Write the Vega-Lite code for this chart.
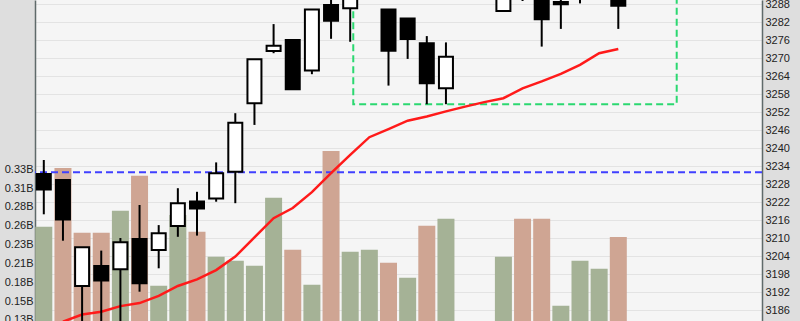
{
  "$schema": "https://vega.github.io/schema/vega-lite/v6.json",
  "width": 727,
  "height": 321,
  "autosize": {"type": "none"},
  "padding": {"left": 35, "right": 38, "top": 0, "bottom": 0},
  "background": "#dedede",
  "view": {"fill": "#f5f5f5", "stroke": null},
  "config": {
    "axis": {
      "labelFont": "Liberation Sans",
      "labelFontSize": 11,
      "labelColor": "#222222",
      "ticks": false,
      "title": null,
      "gridColor": "#e3e3e3",
      "gridWidth": 1,
      "domainColor": "#5f6a6a",
      "domainWidth": 1.5
    }
  },
  "datasets": {
    "candles": [
      {"slot": 1, "open": 3231.4, "high": 3236.1, "low": 3218.0, "close": 3226.3, "volume": 255800000, "vdir": "up"},
      {"slot": 2, "open": 3229.4, "high": 3229.4, "low": 3209.2, "close": 3216.3, "volume": 335600000, "vdir": "down"},
      {"slot": 3, "open": 3194.1, "high": 3207.0, "low": 3178.0, "close": 3207.0, "volume": 247600000, "vdir": "down"},
      {"slot": 4, "open": 3200.8, "high": 3205.9, "low": 3180.0, "close": 3195.9, "volume": 247600000, "vdir": "down"},
      {"slot": 5, "open": 3199.7, "high": 3210.1, "low": 3176.0, "close": 3208.7, "volume": 277500000, "vdir": "up"},
      {"slot": 6, "open": 3209.8, "high": 3221.1, "low": 3192.2, "close": 3195.0, "volume": 325100000, "vdir": "down"},
      {"slot": 7, "open": 3206.1, "high": 3214.4, "low": 3200.0, "close": 3211.7, "volume": 175600000, "vdir": "up"},
      {"slot": 8, "open": 3214.1, "high": 3226.7, "low": 3210.5, "close": 3221.7, "volume": 271700000, "vdir": "up"},
      {"slot": 9, "open": 3222.3, "high": 3225.5, "low": 3210.9, "close": 3219.9, "volume": 249000000, "vdir": "down"},
      {"slot": 10, "open": 3223.3, "high": 3235.3, "low": 3222.2, "close": 3231.7, "volume": 215000000, "vdir": "up"},
      {"slot": 11, "open": 3232.2, "high": 3251.7, "low": 3221.7, "close": 3248.5, "volume": 209600000, "vdir": "up"},
      {"slot": 12, "open": 3255.0, "high": 3269.7, "low": 3247.8, "close": 3269.7, "volume": 202800000, "vdir": "up"},
      {"slot": 13, "open": 3272.4, "high": 3281.4, "low": 3271.7, "close": 3274.2, "volume": 295200000, "vdir": "up"},
      {"slot": 14, "open": 3276.1, "high": 3276.4, "low": 3259.7, "close": 3259.7, "volume": 224500000, "vdir": "down"},
      {"slot": 15, "open": 3265.9, "high": 3286.3, "low": 3264.7, "close": 3286.3, "volume": 177000000, "vdir": "up"},
      {"slot": 16, "open": 3287.8, "high": 3292.5, "low": 3276.5, "close": 3282.5, "volume": 358700000, "vdir": "down"},
      {"slot": 17, "open": 3286.7, "high": 3296.0, "low": 3275.5, "close": 3293.0, "volume": 221800000, "vdir": "up"},
      {"slot": 18, "open": 3295.0, "high": 3301.0, "low": 3291.5, "close": 3299.0, "volume": 224500000, "vdir": "up"},
      {"slot": 19, "open": 3286.3, "high": 3286.3, "low": 3260.9, "close": 3272.5, "volume": 206900000, "vdir": "down"},
      {"slot": 20, "open": 3283.3, "high": 3283.3, "low": 3269.8, "close": 3276.4, "volume": 186500000, "vdir": "up"},
      {"slot": 21, "open": 3275.0, "high": 3277.4, "low": 3254.7, "close": 3261.7, "volume": 257200000, "vdir": "down"},
      {"slot": 22, "open": 3260.0, "high": 3275.3, "low": 3254.7, "close": 3270.5, "volume": 266700000, "vdir": "up"},
      {"slot": 25, "open": 3285.8, "high": 3294.0, "low": 3285.8, "close": 3292.0, "volume": 215000000, "vdir": "up"},
      {"slot": 26, "open": 3296.0, "high": 3298.0, "low": 3289.1, "close": 3291.0, "volume": 266700000, "vdir": "down"},
      {"slot": 27, "open": 3292.0, "high": 3294.0, "low": 3273.9, "close": 3283.0, "volume": 266700000, "vdir": "down"},
      {"slot": 28, "open": 3288.8, "high": 3293.0, "low": 3279.8, "close": 3288.0, "volume": 148400000, "vdir": "up"},
      {"slot": 29, "open": 3291.0, "high": 3297.0, "low": 3288.3, "close": 3295.0, "volume": 209600000, "vdir": "up"},
      {"slot": 30, "open": 3294.0, "high": 3300.0, "low": 3291.0, "close": 3298.0, "volume": 198700000, "vdir": "up"},
      {"slot": 31, "open": 3294.0, "high": 3296.0, "low": 3279.8, "close": 3287.5, "volume": 241800000, "vdir": "down"}
    ],
    "ma": [
      {"slot": 2, "ma": 3182.2}, {"slot": 3, "ma": 3184.6}, {"slot": 4, "ma": 3185.5},
      {"slot": 5, "ma": 3187.4}, {"slot": 6, "ma": 3188.4}, {"slot": 7, "ma": 3190.8},
      {"slot": 8, "ma": 3194.1}, {"slot": 9, "ma": 3196.3}, {"slot": 10, "ma": 3199.4},
      {"slot": 11, "ma": 3203.9}, {"slot": 12, "ma": 3210.3}, {"slot": 13, "ma": 3216.7},
      {"slot": 14, "ma": 3220.1}, {"slot": 15, "ma": 3225.4}, {"slot": 16, "ma": 3231.7},
      {"slot": 17, "ma": 3237.8}, {"slot": 18, "ma": 3243.7}, {"slot": 19, "ma": 3246.4},
      {"slot": 20, "ma": 3249.2}, {"slot": 21, "ma": 3250.6}, {"slot": 22, "ma": 3252.3},
      {"slot": 23, "ma": 3253.9}, {"slot": 24, "ma": 3255.4}, {"slot": 25, "ma": 3256.7},
      {"slot": 26, "ma": 3260.0}, {"slot": 27, "ma": 3262.3}, {"slot": 28, "ma": 3264.8},
      {"slot": 29, "ma": 3267.8}, {"slot": 30, "ma": 3271.7}, {"slot": 31, "ma": 3273.1}
    ]
  },
  "resolve": {"scale": {"y": "independent"}, "axis": {"y": "independent"}},
  "layer": [
    {
      "data": {"name": "candles"},
      "mark": {"type": "rule", "color": "#000000", "strokeWidth": 2, "opacity": 0},
      "encoding": {
        "x": {
          "field": "slot", "type": "quantitative",
          "scale": {"domain": [0.5405, 38.504], "nice": false, "zero": false, "padding": 0},
          "axis": {"values": [3.06, 8.06, 13.06, 18.06, 23.06, 28.06, 33.06, 38.06], "grid": true, "labels": false, "domain": false, "ticks": false}
        },
        "y": {
          "field": "low", "type": "quantitative",
          "scale": {"domain": [3182.433, 3289.433], "nice": false, "zero": false, "padding": 0},
          "axis": {"orient": "right", "grid": true, "labelPadding": 3, "format": "d", "values": [3186, 3192, 3198, 3204, 3210, 3216, 3222, 3228, 3234, 3240, 3246, 3252, 3258, 3264, 3270, 3276, 3282, 3288]}
        }
      }
    },
    {
      "data": {"name": "candles"},
      "mark": {"type": "bar", "width": 17, "clip": true},
      "encoding": {
        "x": {"field": "slot", "type": "quantitative", "scale": {"domain": [0.5405, 38.504], "nice": false, "zero": false, "padding": 0}, "axis": null},
        "y": {
          "field": "volume", "type": "quantitative",
          "scale": {"domain": [127640000, 563880000], "nice": false, "zero": false, "padding": 0},
          "axis": {
            "orient": "left", "grid": false, "labelPadding": 2,
            "values": [129000000, 154600000, 180200000, 205800000, 231400000, 257000000, 282600000, 308200000, 333800000],
            "labelExpr": "format(datum.value/1e9, '.2f') + 'B'"
          }
        },
        "y2": {"datum": 0},
        "color": {"field": "vdir", "type": "nominal", "scale": {"domain": ["up", "down"], "range": ["#a5b296", "#cfa593"]}, "legend": null}
      }
    },
    {
      "data": {"values": [{}]},
      "mark": {"type": "rule", "color": "#4040ff", "strokeWidth": 2, "strokeDash": [7, 4]},
      "encoding": {
        "y": {"datum": 3232, "type": "quantitative", "scale": {"domain": [3182.433, 3289.433], "nice": false, "zero": false, "padding": 0}, "axis": null}
      }
    },
    {
      "data": {"values": [{}]},
      "mark": {"type": "rect", "fillOpacity": 0, "stroke": "#2bd870", "strokeWidth": 2, "strokeDash": [7, 4], "clip": true},
      "encoding": {
        "x": {"datum": 17.16, "type": "quantitative", "scale": {"domain": [0.5405, 38.504], "nice": false, "zero": false, "padding": 0}, "axis": null},
        "x2": {"datum": 34.05},
        "y": {"datum": 3254.67, "type": "quantitative", "scale": {"domain": [3182.433, 3289.433], "nice": false, "zero": false, "padding": 0}, "axis": null},
        "y2": {"datum": 3300}
      }
    },
    {
      "data": {"name": "ma"},
      "mark": {"type": "line", "color": "#ff1a1a", "strokeWidth": 2.5, "clip": true},
      "encoding": {
        "x": {"field": "slot", "type": "quantitative", "scale": {"domain": [0.5405, 38.504], "nice": false, "zero": false, "padding": 0}, "axis": null},
        "y": {"field": "ma", "type": "quantitative", "scale": {"domain": [3182.433, 3289.433], "nice": false, "zero": false, "padding": 0}, "axis": null}
      }
    },
    {
      "data": {"name": "candles"},
      "mark": {"type": "rule", "color": "#000000", "strokeWidth": 2, "clip": true},
      "encoding": {
        "x": {"field": "slot", "type": "quantitative", "scale": {"domain": [0.5405, 38.504], "nice": false, "zero": false, "padding": 0}, "axis": null},
        "y": {"field": "low", "type": "quantitative", "scale": {"domain": [3182.433, 3289.433], "nice": false, "zero": false, "padding": 0}, "axis": null},
        "y2": {"field": "high"}
      }
    },
    {
      "data": {"name": "candles"},
      "mark": {"type": "bar", "width": 14, "stroke": "#000000", "strokeWidth": 2, "clip": true},
      "encoding": {
        "x": {"field": "slot", "type": "quantitative", "scale": {"domain": [0.5405, 38.504], "nice": false, "zero": false, "padding": 0}, "axis": null},
        "y": {"field": "open", "type": "quantitative", "scale": {"domain": [3182.433, 3289.433], "nice": false, "zero": false, "padding": 0}, "axis": null},
        "y2": {"field": "close"},
        "fill": {"condition": {"test": "datum.close > datum.open", "value": "#ffffff"}, "value": "#000000"}
      }
    }
  ]
}
